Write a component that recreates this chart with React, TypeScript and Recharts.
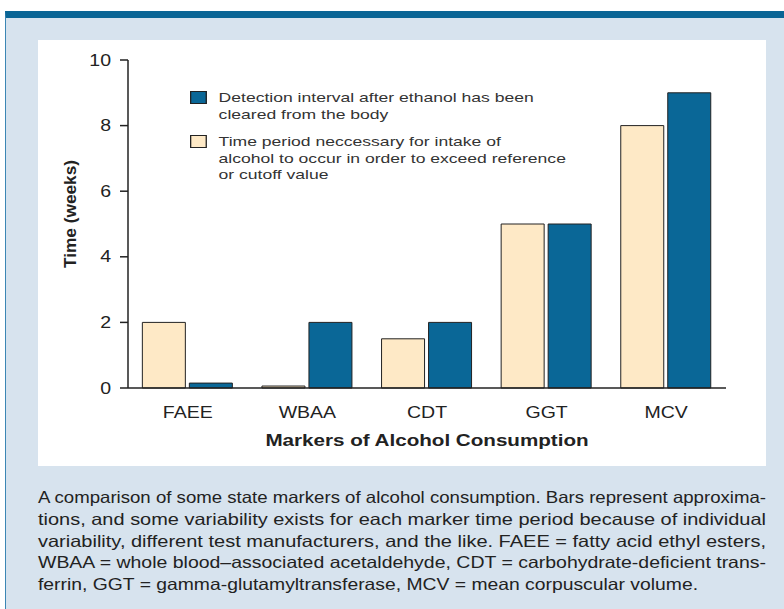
import React from 'react';
import { BarChart, Bar, XAxis, YAxis, Legend, Label } from 'recharts';

const markers = ['FAEE', 'WBAA', 'CDT', 'GGT', 'MCV'];
const intakePeriod = [2, 0.06, 1.5, 5, 8];
const detectionInterval = [0.15, 2, 2, 5, 9];
const yTicks = [0, 2, 4, 6, 8, 10];
const boundaryTicks = [1, 2, 3, 4];

const captionLines = [
  'A comparison of some state markers of alcohol consumption. Bars represent approxima-',
  'tions, and some variability exists for each marker time period because of individual',
  'variability, different test manufacturers, and the like. FAEE = fatty acid ethyl esters,',
  'WBAA = whole blood\u2013associated acetaldehyde, CDT = carbohydrate-deficient trans-',
  'ferrin, GGT = gamma-glutamyltransferase, MCV = mean corpuscular volume.',
];
const captionWidths = [728, 728, 728, 728, 660];

const legendItems = [
  {
    color: '#0a6797',
    lines: ['Detection interval after ethanol has been', 'cleared from the body'],
  },
  {
    color: '#fee9c6',
    lines: [
      'Time period neccessary for intake of',
      'alcohol to occur in order to exceed reference',
      'or cutoff value',
    ],
  },
];

const data = markers.map((m, i) => ({
  marker: m,
  intake: intakePeriod[i],
  detection: detectionInterval[i],
}));

const FONT = '"Liberation Sans", Arial, Helvetica, sans-serif';
const INK = '#222';
// the original figure's type is set wide, so text is stretched sideways
const WIDE = 1.22;

function WideTick(props: any) {
  const { x, y, payload, textAnchor, vertical } = props;
  return (
    <text
      transform={`translate(${x},${y}) scale(${WIDE},1)`}
      textAnchor={textAnchor}
      dy={vertical ? '0.35em' : '0.71em'}
      fontFamily={FONT}
      fontSize={16}
      fill={INK}
    >
      {payload.value}
    </text>
  );
}

function LegendBox() {
  return (
    <div
      style={{
        fontFamily: FONT,
        fontSize: 13.5,
        color: '#333',
        lineHeight: '16.5px',
        transform: 'scaleX(1.3)',
        transformOrigin: 'left top',
        whiteSpace: 'nowrap',
      }}
    >
      {legendItems.map((item, i) => (
        <div key={i} style={{ display: 'flex', marginBottom: 11 }}>
          <div
            style={{
              width: 11,
              height: 11,
              background: item.color,
              border: '1.5px solid #222',
              marginTop: 1,
              marginRight: 9,
              flexShrink: 0,
            }}
          />
          <div>
            {item.lines.map((l, j) => (
              <div key={j}>{l}</div>
            ))}
          </div>
        </div>
      ))}
    </div>
  );
}

export default function App() {
  return (
    <div
      style={{
        position: 'absolute',
        left: 0,
        top: 0,
        width: 784,
        height: 609,
        overflow: 'hidden',
        background: '#fff',
      }}
    >
      <div
        style={{
          position: 'absolute',
          left: 5,
          top: 11,
          width: 800,
          height: 620,
          background: '#d7e3ee',
          borderTop: '7px solid #0a6595',
          borderLeft: '1.5px solid #3b86b4',
        }}
      />
      <div
        style={{
          position: 'absolute',
          left: 38,
          top: 40,
          width: 728,
          height: 426,
          background: '#fff',
        }}
      >
        <BarChart
          width={728}
          height={426}
          data={data}
          margin={{ top: 20, right: 40, left: 30, bottom: 48 }}
          barCategoryGap="12%"
          barGap={4}
        >
          <XAxis
            xAxisId="bounds"
            type="number"
            domain={[0, 5]}
            ticks={boundaryTicks}
            height={0}
            axisLine={false}
            tickLine={{ stroke: INK, strokeWidth: 1.5 }}
            tickSize={7}
            tick={false}
          />
          <XAxis
            dataKey="marker"
            axisLine={{ stroke: INK, strokeWidth: 1.5 }}
            tickLine={false}
            tickSize={0}
            tickMargin={19}
            tick={<WideTick />}
            height={30}
          >
            <Label
              content={(props: any) => {
                const vb = props.viewBox;
                const cx = vb.x + vb.width / 2;
                return (
                  <text
                    transform={`translate(${cx},406) scale(1.25,1)`}
                    textAnchor="middle"
                    fontFamily={FONT}
                    fontWeight="bold"
                    fontSize={16.5}
                    fill={INK}
                  >
                    Markers of Alcohol Consumption
                  </text>
                );
              }}
            />
          </XAxis>
          <YAxis
            domain={[0, 10]}
            ticks={yTicks}
            width={60}
            axisLine={{ stroke: INK, strokeWidth: 1.5 }}
            tickLine={{ stroke: INK, strokeWidth: 1.5 }}
            tickSize={8}
            tickMargin={9}
            tick={<WideTick vertical />}
          >
            <Label
              content={() => (
                <text
                  x={38}
                  y={174}
                  transform="rotate(-90 38 174)"
                  textAnchor="middle"
                  fontFamily={FONT}
                  fontWeight="bold"
                  fontSize={16}
                  fill={INK}
                  textLength={108}
                  lengthAdjust="spacingAndGlyphs"
                >
                  Time (weeks)
                </text>
              )}
            />
          </YAxis>
          <Legend
            layout="vertical"
            align="center"
            verticalAlign="middle"
            wrapperStyle={{ top: 50, left: 152, width: 'auto' }}
            content={() => <LegendBox />}
          />
          <Bar
            dataKey="intake"
            name="Time period neccessary for intake of alcohol to occur in order to exceed reference or cutoff value"
            fill="#fee9c6"
            stroke={INK}
            strokeWidth={1}
            isAnimationActive={false}
          />
          <Bar
            dataKey="detection"
            name="Detection interval after ethanol has been cleared from the body"
            fill="#0a6797"
            stroke={INK}
            strokeWidth={1}
            isAnimationActive={false}
          />
        </BarChart>
      </div>
      <svg
        width={784}
        height={140}
        style={{ position: 'absolute', left: 0, top: 470 }}
      >
        {captionLines.map((line, i) => (
          <text
            key={i}
            x={38}
            y={33 + i * 21.8}
            fontFamily={FONT}
            fontSize={16.5}
            fill={INK}
            textLength={captionWidths[i]}
            lengthAdjust="spacingAndGlyphs"
          >
            {line}
          </text>
        ))}
      </svg>
    </div>
  );
}
